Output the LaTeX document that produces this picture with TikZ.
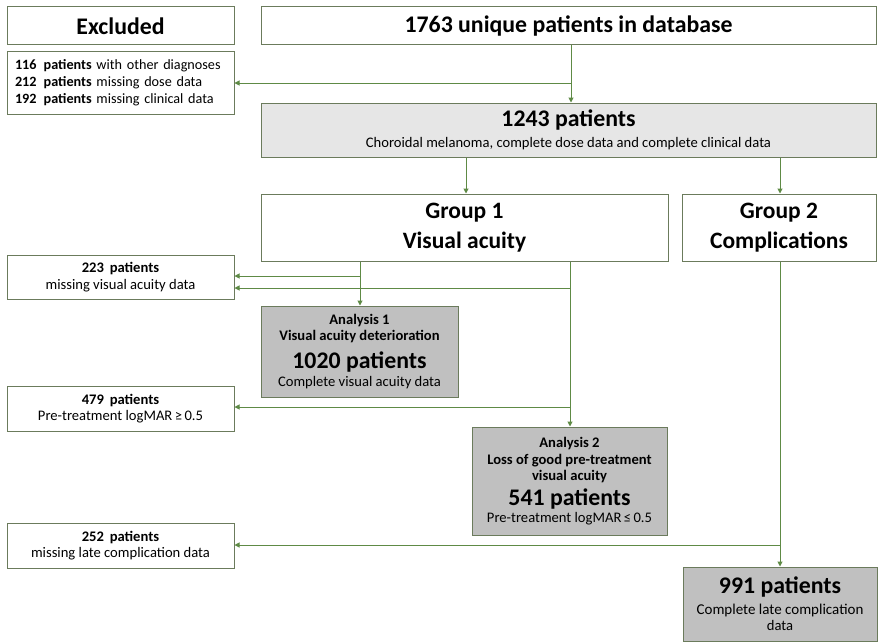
\documentclass[tikz,border=0pt]{standalone}
\usepackage{fontspec}
\setmainfont{Carlito}
\usetikzlibrary{arrows.meta}
\definecolor{bordercol}{HTML}{6B7B5C}
\definecolor{arrowcol}{HTML}{5E8A45}
\definecolor{lightfill}{HTML}{E6E6E6}
\definecolor{darkfill}{HTML}{C0C0C0}
\newcommand{\fsA}{\fontsize{23.8}{28}\selectfont}
\newcommand{\fsB}{\fontsize{23.8}{26}\selectfont}
\newcommand{\fsS}{\fontsize{14.6}{16.5}\selectfont}
\newcommand{\fsM}{\fontsize{15}{17}\selectfont}
\begin{document}
\begin{tikzpicture}[x=1pt,y=-1pt,
  box/.style={draw=bordercol, line width=1pt, inner sep=0pt, align=center, font=\fsS},
  exbox/.style={box, fill=white, minimum width=227pt},
  graybox/.style={box, fill=darkfill},
  arr/.style={draw=arrowcol, line width=1pt, -{Triangle[length=5pt,width=5pt]}}]
\useasboundingbox[fill=white] (0,0) rectangle (880,642);

% left column
\node[exbox, minimum height=38pt, font=\fsA\bfseries] (excl) at (120.5,26) {Excluded};
\node[exbox, minimum height=62pt, align=left, text width=211pt,
      font=\fontsize{14.2}{17}\selectfont] (exc1) at (120.5,83)
  {\mbox{\textbf{116\, patients} with other diagnoses}\\
   \mbox{\textbf{212\, patients} missing dose data}\\
   \mbox{\textbf{192\, patients} missing clinical data}};
\node[exbox, minimum height=44pt] (e223) at (120.5,277)
  {\textbf{223\, patients}\\missing visual acuity data};
\node[exbox, minimum height=45pt] (e479) at (120.5,408.5)
  {\textbf{479\, patients}\\Pre-treatment logMAR\,≥\,0.5};
\node[exbox, minimum height=45pt] (e252) at (120.5,545.5)
  {\textbf{252\, patients}\\missing late complication data};

% main column
\node[box, minimum width=615pt, minimum height=38pt, font=\fsA\bfseries] (top) at (568.5,26)
  {1763 unique patients in database};
\node[box, fill=lightfill, minimum width=615pt, minimum height=54pt] (n1243) at (568.5,130)
  {\fsB\bfseries 1243 patients\\[5pt]\fsS\mdseries Choroidal melanoma, complete dose data and complete clinical data};
\node[box, minimum width=407pt, minimum height=67pt, font=\fontsize{23.5}{30}\selectfont\bfseries] (g1) at (464.5,227.5)
  {Group 1\\Visual acuity};
\node[box, minimum width=194pt, minimum height=67pt, font=\fontsize{23.5}{30}\selectfont\bfseries] (g2) at (779,227.5)
  {Group 2\\Complications};
\node[graybox, minimum width=197pt, minimum height=91pt] (a1) at (359.5,351.5)
  {\textbf{Analysis 1}\\\textbf{Visual acuity deterioration}\\[8pt]
   \fsB\bfseries 1020 patients\\[1pt]\fsS\mdseries Complete visual acuity data};
\node[graybox, minimum width=195pt, minimum height=108pt] (a2) at (569.5,481)
  {\textbf{Analysis 2}\\\textbf{Loss of good pre-treatment}\\\textbf{visual acuity}\\[5pt]
   \fsB\bfseries 541 patients\\\fsS\mdseries Pre-treatment logMAR\,≤\,0.5};
\node[graybox, minimum width=194pt, minimum height=74pt] (n991) at (780,604)
  {\fsB\bfseries 991 patients\\[4pt]\fsM\mdseries Complete late complication\\data};

% connectors
\coordinate (c1) at (571,83);
\draw[arr] (top.south -| c1) -- (n1243.north -| c1);
\draw[arr] (c1) -- (exc1.east |- c1);

\coordinate (c2) at (466,157);
\coordinate (c3) at (780,157);
\draw[arr] (n1243.south -| c2) -- (g1.north -| c2);
\draw[arr] (n1243.south -| c3) -- (g2.north -| c3);

\coordinate (c4) at (360,276);
\draw[arr] (g1.south -| c4) -- (a1.north -| c4);
\draw[arr] (c4) -- (e223.east |- c4);

\coordinate (c5) at (570,288);
\coordinate (c6) at (570,407);
\draw[arr] (g1.south -| c5) -- (a2.north -| c5);
\draw[arr] (c5) -- (e223.east |- c5);
\draw[arr] (c6) -- (e479.east |- c6);

\coordinate (c7) at (780,545);
\draw[arr] (g2.south -| c7) -- (n991.north -| c7);
\draw[arr] (c7) -- (e252.east |- c7);
\end{tikzpicture}
\end{document}
